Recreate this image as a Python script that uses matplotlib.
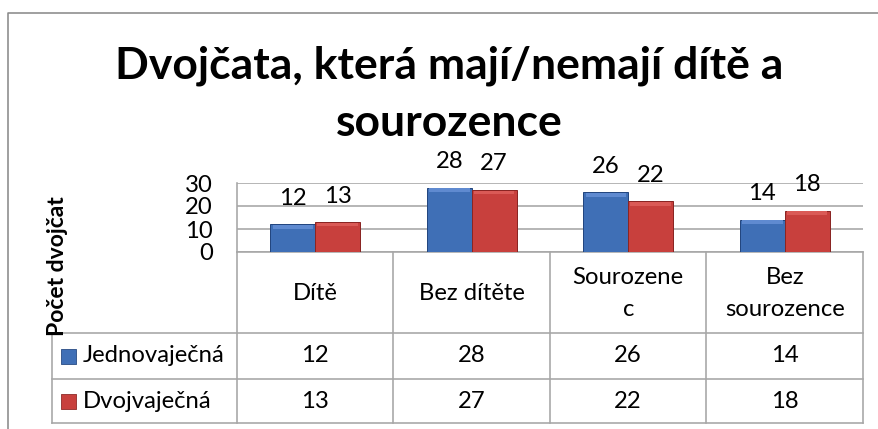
import matplotlib
matplotlib.use("Agg")
import matplotlib.pyplot as plt
import numpy as np

categories = ["Dítě", "Bez dítěte", "Sourozene\nc", "Bez\nsourozence"]
series_names = ["Jednovaječná", "Dvojvaječná"]
jednovajecna = [12, 28, 26, 14]
dvojvajecna = [13, 27, 22, 18]
yticks = [0, 10, 20, 30]
title = "Dvojčata, která mají/nemají dítě a\nsourozence"
ylabel = "Počet dvojčat"

W, H, DPI = 879, 429, 100
FONT = "Lato"
plt.rcParams['font.family'] = [FONT, 'DejaVu Sans']

def pt(px):
    return px * 72.0 / DPI

fig = plt.figure(figsize=(W / DPI, H / DPI), dpi=DPI)
fig.patch.set_facecolor("white")

# overlay axes in pixel coordinates for frame and data table
ov = fig.add_axes([0, 0, 1, 1], zorder=0)
ov.set_xlim(0, W)
ov.set_ylim(H, 0)
ov.axis("off")

GRID = "#A6A6A6"
LW = pt(1.6)
TXT = 17.2

# chart frame
ov.plot([8, 8, W], [H, 12.5, 12.5], color="#8A8A8A", lw=pt(1.6), solid_capstyle="butt")

# plot area
L, R, T, B = 237, 863, 183, 252
ax = fig.add_axes([L / W, 1 - B / H, (R - L) / W, (B - T) / H], zorder=2)
ax.patch.set_alpha(0)
n = len(categories)
x = np.arange(n)
bw = 0.2875
colors = ["#3F6FB6", "#C8403D"]
edges = ["#23467F", "#8A2523"]
lights = ["#5F8AD0", "#DA5A56"]
series = [jednovajecna, dvojvajecna]
offsets = [-bw / 2, bw / 2]
bev = 1.6
for vals, off, c, ec, lc in zip(series, offsets, colors, edges, lights):
    ax.bar(x + off, vals, width=bw, color=c, edgecolor=ec, linewidth=pt(1.0), zorder=3)
    ax.bar(x + off, [bev] * n, bottom=np.array(vals) - bev - 0.3, width=bw * 0.9,
           color=lc, linewidth=0, zorder=4)
    for xi, v in zip(x + off, vals):
        ax.annotate(str(v), xy=(xi, v), xytext=(0, pt(26)), textcoords="offset points",
                    ha="center", va="center", fontsize=TXT, color="black", zorder=5)

ax.set_xlim(-0.5, n - 0.5)
ax.set_ylim(0, 30)
ax.set_yticks(yticks)
ax.set_yticklabels([str(t) for t in yticks], fontsize=TXT)
ax.tick_params(axis="y", length=0, pad=pt(24))
ax.set_xticks([])
ax.yaxis.grid(True, color=GRID, lw=LW)
ax.set_axisbelow(True)
for s in ["top", "right"]:
    ax.spines[s].set_visible(False)
for s in ["left", "bottom"]:
    ax.spines[s].set_color(GRID)
    ax.spines[s].set_linewidth(LW)

# data table
cw = (R - L) / n
r0, r1, r2, r3 = B, 333, 379, 423
TL = 52
ov.plot([TL, R], [r1, r1], color=GRID, lw=LW)
ov.plot([TL, R], [r2, r2], color=GRID, lw=LW)
ov.plot([TL, R], [r3, r3], color=GRID, lw=LW)
ov.plot([TL, TL], [r1, r3], color=GRID, lw=LW)
for i in range(n + 1):
    ov.plot([L + i * cw, L + i * cw], [r0, r3], color=GRID, lw=LW)

for i, cat in enumerate(categories):
    ov.text(L + (i + 0.5) * cw, (r0 + r1) / 2 + 1, cat, ha="center", va="center",
            fontsize=TXT, linespacing=1.7)
rows = [(r1 + r2) / 2, (r2 + r3) / 2]
for name, vals, c, ec, yc in zip(series_names, series, colors, edges, rows):
    ov.scatter([68.5], [yc], marker="s", s=pt(15) ** 2, color=c, edgecolors=ec,
               linewidths=pt(0.8), zorder=3)
    ov.text(83, yc, name, ha="left", va="center", fontsize=TXT)
    for i, v in enumerate(vals):
        ov.text(L + (i + 0.5) * cw, yc, str(v), ha="center", va="center", fontsize=TXT)

# title and axis label
fig.text(449 / W, 1 - 136 / H, title, ha="center", va="baseline", fontsize=32,
         fontweight="bold", linespacing=1.53)
fig.text(58 / W, 1 - 266 / H, ylabel, rotation=90, ha="center", va="center",
         fontsize=16.5, fontweight="bold")

fig.savefig("out.png", dpi=DPI)
